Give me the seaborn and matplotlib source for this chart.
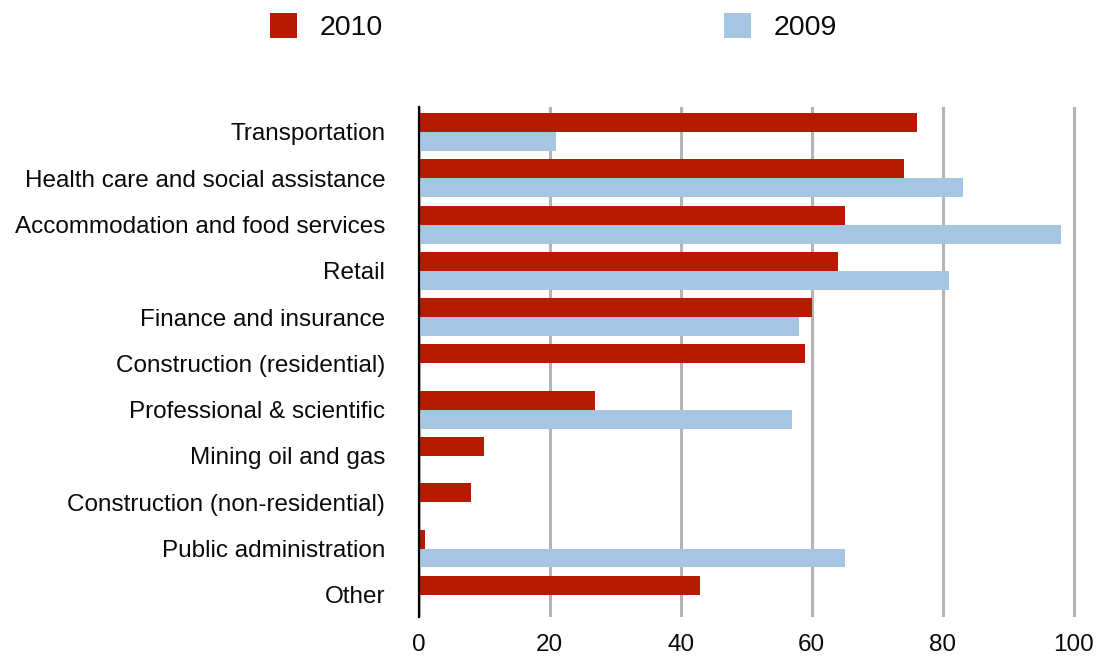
import matplotlib
matplotlib.use("Agg")
import matplotlib.pyplot as plt
import seaborn as sns
import pandas as pd

# Sectors and their values for each year
sectors = [
    "Transportation",
    "Health care and social assistance",
    "Accommodation and food services",
    "Retail",
    "Finance and insurance",
    "Construction (residential)",
    "Professional & scientific",
    "Mining oil and gas",
    "Construction (non-residential)",
    "Public administration",
    "Other",
]
values_2010 = [76, 74, 65, 64, 60, 59, 27, 10, 8, 1, 43]
values_2009 = [21, 83, 98, 81, 58, 0, 57, 0, 0, 65, 0]
years = ["2010", "2009"]
colors = ["#b51b00", "#a5c5e1"]
x_ticks = [0, 20, 40, 60, 80, 100]

df = pd.DataFrame({
    "sector": sectors * 2,
    "value": values_2010 + values_2009,
    "year": [years[0]] * len(sectors) + [years[1]] * len(sectors),
})

sns.set_theme(style="white")
plt.rcParams["font.family"] = ["Liberation Sans", "DejaVu Sans"]

W, H = 1099, 658
fig = plt.figure(figsize=(W / 100, H / 100), dpi=100)
x0_px, y_top_px, y_bot_px = 418.5, 107, 617
px_per_unit = 6.555
xmax = 100.4
ax = fig.add_axes([x0_px / W, 1 - y_bot_px / H,
                   xmax * px_per_unit / W, (y_bot_px - y_top_px) / H])

sns.barplot(data=df, y="sector", x="value", hue="year", order=sectors,
            hue_order=years, palette=colors, width=0.82, gap=0,
            saturation=1, linewidth=0, orient="h", ax=ax, zorder=3)

ax.set_xlim(0, xmax)
ax.set_ylim(10.48, -0.54)
ax.set_xticks(x_ticks)
ax.set_xticklabels([str(t) for t in x_ticks])
ax.set_xlabel("")
ax.set_ylabel("")

ax.grid(axis="x", color="#b4b4b4", linewidth=2.2, zorder=0)
ax.grid(axis="y", visible=False)
ax.set_axisbelow(True)
for side in ["top", "right", "bottom"]:
    ax.spines[side].set_visible(False)
ax.spines["left"].set_color("black")
ax.spines["left"].set_linewidth(1.6)
ax.spines["left"].set_zorder(5)

ax.tick_params(axis="y", length=0, pad=24, labelsize=17.5, labelcolor="#0a0a0a")
ax.tick_params(axis="x", length=0, pad=12, labelsize=17.5, labelcolor="#0a0a0a")

handles, labels = ax.get_legend_handles_labels()
ax.legend(handles, labels, loc="upper left",
          bbox_to_anchor=(270 / W, 1 - 13 / H), bbox_transform=fig.transFigure,
          ncol=2, frameon=False, fontsize=20.5, handlelength=0.95,
          handleheight=0.95, handletextpad=0.78, columnspacing=12.0,
          borderpad=0, borderaxespad=0, labelcolor="#0a0a0a")

fig.savefig("out.png", dpi=100, facecolor="white")
